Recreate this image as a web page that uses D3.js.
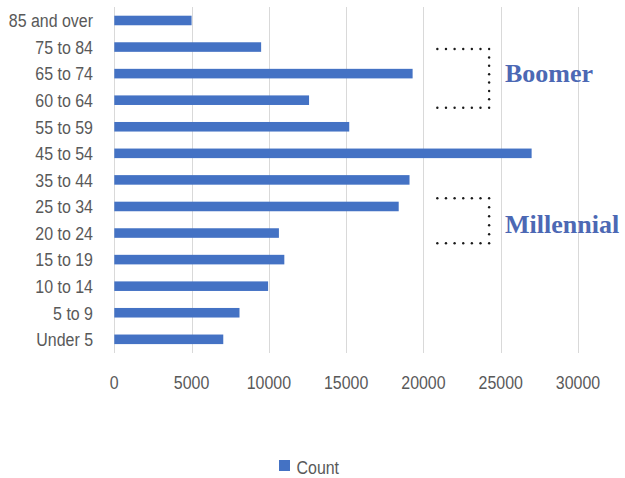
<!DOCTYPE html>
<html>
<head>
<meta charset="utf-8">
<script src="https://cdn.jsdelivr.net/npm/d3@7"></script>
<style>
  body { margin: 0; background: #fff; }
  svg { display: block; }
  .lbl { font-family: "Liberation Sans", Arial, sans-serif; fill: #595959; font-size: 19px; }
</style>
</head>
<body>
<div id="chart"></div>
<script>
// age groups, top to bottom
var categories = ["85 and over", "75 to 84", "65 to 74", "60 to 64", "55 to 59", "45 to 54",
    "35 to 44", "25 to 34", "20 to 24", "15 to 19", "10 to 14", "5 to 9", "Under 5"];
var counts = [5000, 9500, 19300, 12600, 15200, 27000, 19100, 18400, 10650, 11000, 9950, 8100, 7050];
var xTicks = [0, 5000, 10000, 15000, 20000, 25000, 30000];
var seriesName = "Count";
// generation brackets: first/last category they span
var groups = ["Boomer", "Millennial"];
var groupSpans = [["75 to 84", "60 to 64"], ["25 to 34", "20 to 24"]];

var width = 625, height = 478;
var barColor = "#4472c4";
var narrow = 0.84; // squeeze text horizontally, the original uses a condensed face

var svg = d3.select("#chart").append("svg")
    .attr("width", width)
    .attr("height", height);

var x = d3.scaleLinear()
    .domain([0, 30000])
    .range([114.3, 578]);

var y = d3.scaleBand()
    .domain(categories)
    .range([7.2, 352.6])
    .paddingInner(0.64)
    .paddingOuter(0.32);

function place(px, py) {
    return "translate(" + px + "," + py + ") scale(" + narrow + ",1)";
}

// gridlines
svg.append("g").selectAll("line")
    .data(xTicks)
    .enter().append("line")
    .attr("x1", function (d) { return Math.round(x(d)) + 0.5; })
    .attr("x2", function (d) { return Math.round(x(d)) + 0.5; })
    .attr("y1", 7)
    .attr("y2", 353)
    .attr("stroke", "#d9d9d9")
    .attr("stroke-width", 1);

// bars
svg.append("g").selectAll("rect")
    .data(counts)
    .enter().append("rect")
    .attr("x", x(0))
    .attr("y", function (d, i) { return y(categories[i]); })
    .attr("width", function (d) { return x(d) - x(0); })
    .attr("height", y.bandwidth())
    .attr("fill", barColor);

// category labels
svg.append("g").selectAll("text")
    .data(categories)
    .enter().append("text")
    .attr("class", "lbl")
    .attr("transform", function (d) { return place(93, y(d) + y.bandwidth() / 2 + 6.8); })
    .attr("text-anchor", "end")
    .text(function (d) { return d; });

// value tick labels
svg.append("g").selectAll("text")
    .data(xTicks)
    .enter().append("text")
    .attr("class", "lbl")
    .attr("transform", function (d) { return place(x(d), 389); })
    .attr("text-anchor", "middle")
    .text(function (d) { return d; });

// dotted brackets + generation names
var bx0 = x(20900), bx1 = x(24250);
var topOff = [2, -8.2], botOff = [7.5, 10.2], nameOff = [3.5, 12.5];
groupSpans.forEach(function (span, k) {
    var top = y(span[0]) + y.bandwidth() / 2 + topOff[k];
    var bot = y(span[1]) + y.bandwidth() / 2 + botOff[k];
    var dots = [];
    var nh = 6;
    d3.range(nh + 1).forEach(function (j) {
        var px = bx0 + (bx1 - bx0) * j / nh;
        dots.push([px, top]);
        dots.push([px, bot]);
    });
    var nv = Math.round((bot - top) / 8.4);
    d3.range(1, nv).forEach(function (j) {
        dots.push([bx1, top + (bot - top) * j / nv]);
    });
    svg.append("g").selectAll("circle")
        .data(dots)
        .enter().append("circle")
        .attr("cx", function (d) { return d[0]; })
        .attr("cy", function (d) { return d[1]; })
        .attr("r", 1.2)
        .attr("fill", "#1a1a1a");

    svg.append("text")
        .attr("x", 505)
        .attr("y", (top + bot) / 2 + nameOff[k])
        .style("font-family", "'Liberation Serif', 'DejaVu Serif', serif")
        .style("font-weight", "bold")
        .style("font-size", "26px")
        .attr("fill", "#4c68b4")
        .text(groups[k]);
});

// legend
var legend = svg.append("g");
legend.append("rect")
    .attr("x", 279)
    .attr("y", 460)
    .attr("width", 11)
    .attr("height", 11)
    .attr("fill", barColor);
legend.append("text")
    .attr("class", "lbl")
    .attr("transform", place(296.5, 474))
    .text(seriesName);
</script>
</body>
</html>
